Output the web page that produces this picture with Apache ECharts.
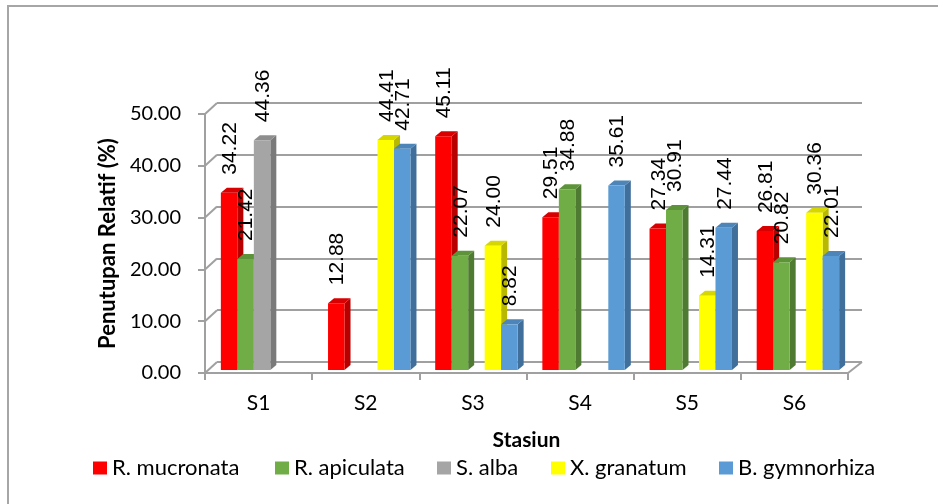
<!DOCTYPE html>
<html>
<head>
<meta charset="utf-8">
<script src="https://cdn.jsdelivr.net/npm/echarts@6/dist/echarts.min.js"></script>
<style>
  html, body { margin: 0; padding: 0; background: #ffffff; }
  #chart { width: 938px; height: 504px; }
</style>
</head>
<body>
<div id="chart"></div>
<script>
// Relative mangrove cover (%) per station and species
const stations = ['S1', 'S2', 'S3', 'S4', 'S5', 'S6'];
const rMucronata = [34.22, 12.88, 45.11, 29.51, 27.34, 26.81];
const rApiculata = [21.42, null, 22.07, 34.88, 30.91, 20.82];
const sAlba = [44.36, null, null, null, null, null];
const xGranatum = [null, 44.41, 24.00, null, 14.31, 30.36];
const bGymnorhiza = [null, 42.71, 8.82, 35.61, 27.44, 22.01];
const speciesNames = ['R. mucronata', 'R. apiculata', 'S. alba', 'X. granatum', 'B. gymnorhiza'];
const speciesValues = [rMucronata, rApiculata, sAlba, xGranatum, bGymnorhiza];
const yTicks = [0, 10, 20, 30, 40, 50];

// Face colours for the pseudo-3D columns: front, side, top
const frontColors = ['#FF0000', '#70AD47', '#A5A5A5', '#FFFF00', '#5B9BD5'];
const sideColors = ['#B80000', '#4E7A31', '#7A7A7A', '#B8B800', '#3F6F9A'];
const topColors = ['#D80000', '#5E9439', '#8E8E8E', '#D6D600', '#4D85B8'];

// Perspective offsets
const WALL_DX = 12, WALL_DY = 11;      // front plane -> back wall
const BAR_DX = 3.5, BAR_DY = 3;        // front plane -> bar front face
const DEPTH_X = 6, DEPTH_Y = 5;        // column depth
const GRID_COLOR = '#a0a0a0';

const chart = echarts.init(document.getElementById('chart'), null, { renderer: 'canvas' });

function columnRenderer(k) {
  return function (params, api) {
    const v = api.value(1);
    if (v == null || isNaN(v)) return null;
    const idx = api.value(0);
    const base = api.coord([idx, 0]);
    const top = api.coord([idx, v]);
    const band = api.size([1, 0])[0];
    const bw = band / 6.5;
    const x0 = base[0] - 2.5 * bw + k * bw + BAR_DX;
    const x1 = x0 + bw;
    const yb = base[1] - BAR_DY;
    const yt = top[1] - BAR_DY;
    return {
      type: 'group',
      children: [
        {
          type: 'polygon',
          shape: { points: [[x1, yt], [x1 + DEPTH_X, yt - DEPTH_Y], [x1 + DEPTH_X, yb - DEPTH_Y], [x1, yb]] },
          style: { fill: sideColors[k] }
        },
        {
          type: 'polygon',
          shape: { points: [[x0, yt], [x0 + DEPTH_X, yt - DEPTH_Y], [x1 + DEPTH_X, yt - DEPTH_Y], [x1, yt]] },
          style: { fill: topColors[k] }
        },
        {
          type: 'rect',
          shape: { x: x0, y: yt, width: bw, height: yb - yt },
          style: { fill: frontColors[k] }
        },
        {
          type: 'text',
          x: (x0 + x1) / 2 + 1,
          y: yt - 18,
          rotation: Math.PI / 2,
          z2: 50,
          style: {
            text: v.toFixed(2),
            fill: '#000000',
            font: '21px "Liberation Sans", Arial, sans-serif',
            align: 'left',
            verticalAlign: 'middle'
          }
        }
      ]
    };
  };
}

// Diagonal edges joining the front axis to the back wall
function wallEdgeRenderer(params, api) {
  const v = api.value(1);
  const cs = params.coordSys;
  const y = api.coord([0, v])[1];
  const children = [{
    type: 'line',
    shape: { x1: cs.x, y1: y, x2: cs.x + WALL_DX, y2: y - WALL_DY },
    style: { stroke: GRID_COLOR, lineWidth: 2 }
  }];
  if (v === 0) {
    children.push({
      type: 'line',
      shape: { x1: cs.x + cs.width, y1: y, x2: cs.x + cs.width + WALL_DX + 2, y2: y - WALL_DY },
      style: { stroke: GRID_COLOR, lineWidth: 2 }
    });
  }
  return { type: 'group', children: children };
}

const tickFont = { fontFamily: 'Lato', fontSize: 20, color: '#000000' };
const categoryFont = { fontFamily: 'Lato', fontSize: 21, color: '#000000' };

const series = speciesNames.map(function (name, k) {
  return {
    type: 'custom',
    name: name,
    xAxisIndex: 0,
    yAxisIndex: 0,
    itemStyle: { color: frontColors[k] },
    renderItem: columnRenderer(k),
    encode: { x: 0, y: 1 },
    data: stations.map(function (s, i) { return [i, speciesValues[k][i]]; })
  };
});
series.unshift({
  type: 'custom',
  name: 'wall-edges',
  xAxisIndex: 0,
  yAxisIndex: 0,
  silent: true,
  z: 1,
  renderItem: wallEdgeRenderer,
  encode: { x: 0, y: 1 },
  data: yTicks.map(function (t) { return [0, t]; })
});

const legendLefts = [93, 275, 437, 551, 719];

const option = {
  animation: false,
  backgroundColor: '#ffffff',
  graphic: [{
    type: 'rect',
    silent: true,
    z: -10,
    shape: { x: 8, y: 6, width: 1000, height: 600 },
    style: { fill: 'none', stroke: '#a6a6a6', lineWidth: 2 }
  }],
  legend: speciesNames.map(function (name, k) {
    return {
      data: [name],
      left: legendLefts[k],
      top: 457,
      padding: 0,
      icon: 'rect',
      itemWidth: 14,
      itemHeight: 13,
      selectedMode: false,
      textStyle: { fontFamily: 'Lato', fontSize: 22, color: '#000000' }
    };
  }),
  grid: [
    { left: 205, top: 114, width: 643, height: 259 },
    { left: 217, top: 103, width: 645, height: 259 }
  ],
  xAxis: [
    {
      type: 'category',
      gridIndex: 0,
      data: stations,
      name: 'Stasiun',
      nameLocation: 'middle',
      nameGap: 57,
      nameTextStyle: { fontFamily: 'Lato', fontSize: 21, fontWeight: 'bold', color: '#000000' },
      axisLine: { show: true, lineStyle: { color: GRID_COLOR, width: 2 } },
      axisTick: { show: true, length: 7, lineStyle: { color: GRID_COLOR, width: 2 } },
      axisLabel: Object.assign({ margin: 20 }, categoryFont),
      splitLine: { show: false }
    },
    {
      type: 'value',
      gridIndex: 1,
      min: 0,
      max: 1,
      show: false
    }
  ],
  yAxis: [
    {
      type: 'value',
      gridIndex: 0,
      min: 0,
      max: 50,
      interval: 10,
      name: 'Penutupan Relatif (%)',
      nameLocation: 'middle',
      nameRotate: 90,
      nameGap: 85,
      nameTextStyle: { fontFamily: 'Lato', fontSize: 22, fontWeight: 'bold', color: '#000000' },
      axisLine: { show: true, lineStyle: { color: GRID_COLOR, width: 2 } },
      axisTick: { show: true, length: 7, lineStyle: { color: GRID_COLOR, width: 2 } },
      axisLabel: Object.assign({ margin: 24, formatter: function (v) { return v.toFixed(2); } }, tickFont),
      splitLine: { show: false }
    },
    {
      type: 'value',
      gridIndex: 1,
      min: 0,
      max: 50,
      interval: 10,
      axisLine: { show: false },
      axisTick: { show: false },
      axisLabel: { show: false },
      splitLine: { show: true, lineStyle: { color: GRID_COLOR, width: 2 } }
    }
  ],
  series: series
};

chart.setOption(option);
</script>
</body>
</html>
